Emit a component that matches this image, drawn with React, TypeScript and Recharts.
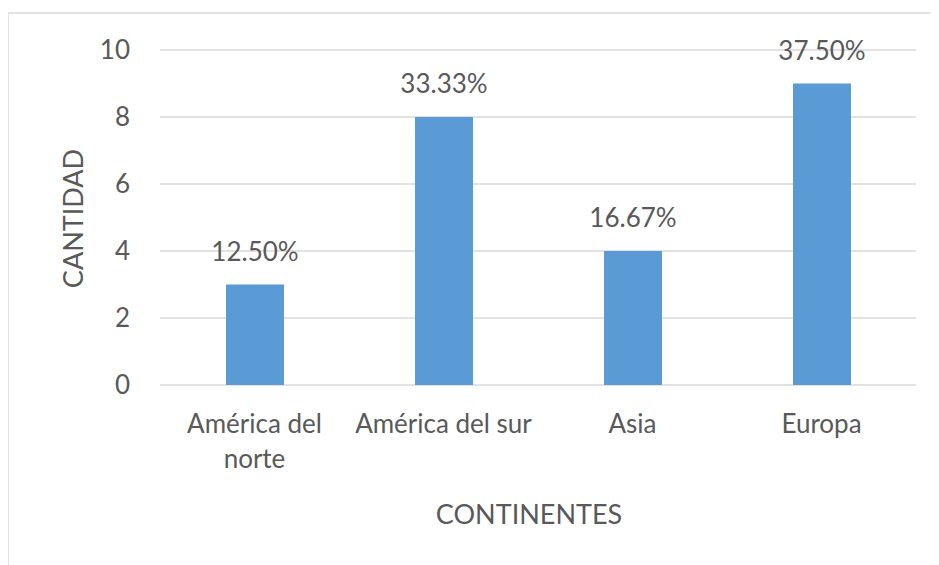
import React from 'react';
import { BarChart, Bar, XAxis, YAxis, CartesianGrid, LabelList, Label } from 'recharts';

const categories = ['América del\nnorte', 'América del sur', 'Asia', 'Europa'];
const cantidades = [3, 8, 4, 9];
const porcentajes = ['12.50%', '33.33%', '16.67%', '37.50%'];
const yTicks = [0, 2, 4, 6, 8, 10];

const data = categories.map((c, i) => ({ name: c, value: cantidades[i], pct: porcentajes[i] }));

const FONT = 'Lato, "Open Sans", sans-serif';
const TEXT = '#595959';

const CatTick = (props: any) => {
  const { x, y, payload } = props;
  const lines = String(payload.value).split('\n');
  return (
    <text x={x} y={y} textAnchor="middle" fill={TEXT} fontSize={26} fontFamily={FONT}>
      {lines.map((l, i) => (
        <tspan key={i} x={x} dy={i === 0 ? 18.5 : 35}>
          {l}
        </tspan>
      ))}
    </text>
  );
};

export default function App() {
  return (
    <div style={{ position: 'relative', width: 931, height: 557 }}>
      <div
        style={{
          position: 'absolute',
          top: 4,
          left: -1,
          width: 932,
          height: 553,
          boxSizing: 'border-box',
          borderTop: '2px solid #e2e2e2',
          borderLeft: '2px solid #e2e2e2',
        }}
      />
      <BarChart
        width={931}
        height={557}
        data={data}
        margin={{ top: 42, right: 23, left: 0, bottom: 0 }}
        style={{ position: 'relative' }}
      >
        <CartesianGrid vertical={false} stroke="#d9d9d9" strokeWidth={1.5} />
        <XAxis
          dataKey="name"
          height={180}
          axisLine={false}
          tickLine={false}
          tickMargin={23}
          tick={<CatTick />}
          interval={0}
        >
          <Label
            content={(p: any) => {
              const vb = p.viewBox;
              return (
                <text
                  x={vb.x + vb.width / 2 - 9}
                  y={vb.y + 139}
                  textAnchor="middle"
                  fill={TEXT}
                  fontSize={27}
                  fontFamily={FONT}
                >
                  CONTINENTES
                </text>
              );
            }}
          />
        </XAxis>
        <YAxis
          width={152}
          domain={[0, 10]}
          ticks={yTicks}
          axisLine={false}
          tickLine={false}
          tickMargin={24}
          tick={{ fill: TEXT, fontSize: 26, fontFamily: FONT }}
        >
          <Label
            content={(p: any) => {
              const vb = p.viewBox;
              const cx = vb.x + 64;
              const cy = vb.y + vb.height / 2 + 1;
              return (
                <text
                  x={cx}
                  y={cy}
                  transform={`rotate(-90 ${cx} ${cy})`}
                  textAnchor="middle"
                  dominantBaseline="central"
                  fill={TEXT}
                  fontSize={27}
                  fontFamily={FONT}
                >
                  CANTIDAD
                </text>
              );
            }}
          />
        </YAxis>
        <Bar dataKey="value" fill="#5B9BD5" barSize={58} isAnimationActive={false}>
          <LabelList
            dataKey="pct"
            position="top"
            offset={24}
            fill={TEXT}
            fontSize={26}
            fontFamily={FONT}
          />
        </Bar>
      </BarChart>
    </div>
  );
}
